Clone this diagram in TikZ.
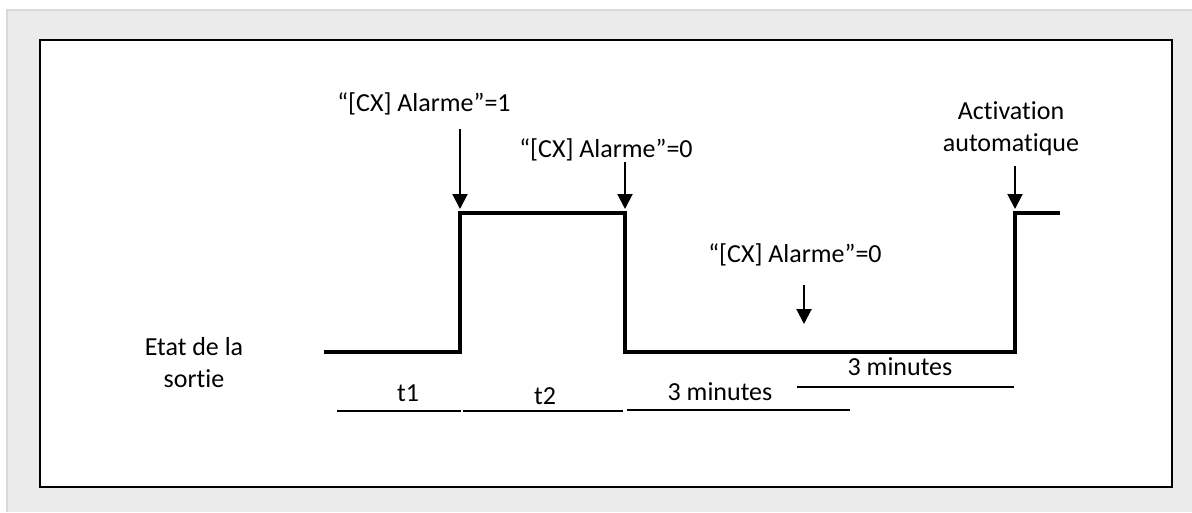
\documentclass[tikz,border=0pt]{standalone}
\usepackage{fontspec}
\setmainfont{Carlito}[Ligatures=NoCommon]
\usetikzlibrary{arrows.meta}
\begin{document}
\begin{tikzpicture}[x=1pt,y=-1pt,
  lbl/.style={anchor=base,inner sep=0pt,font=\fontsize{26}{32}\selectfont,align=center},
  signal/.style={line width=4pt,line join=miter},
  evarrow/.style={line width=2pt,-{Triangle[width=15pt,length=15pt]}},
  tline/.style={line width=2pt}]
\useasboundingbox (0,0) rectangle (1192,512);
% background
\fill[white] (0,0) rectangle (1192,512);
\fill[black!8] (7,10) rectangle (1192,512);
\draw[black!15,line width=2pt] (7,512) -- (7,10) -- (1192,10);
\draw[line width=2.5pt,fill=white] (40,40) rectangle (1172,487);
% signal
\coordinate (s0) at (324,352);
\coordinate (s1) at (460,352);
\coordinate (s2) at (460,213);
\coordinate (s3) at (625,213);
\coordinate (s4) at (625,352);
\coordinate (s5) at (1015,352);
\coordinate (s6) at (1015,213);
\coordinate (s7) at (1060,213);
\draw[signal] (s0) -- (s1) -- (s2) -- (s3) -- (s4) -- (s5) -- (s6) -- (s7);
% labels
\node[lbl] (l1) at (424,111) {“[CX] Alarme”=1};
\node[lbl] (l2) at (606,157) {“[CX] Alarme”=0};
\node[lbl] (l3) at (795,262) {“[CX] Alarme”=0};
\node[lbl] (l4) at (1011,151) {Activation\\automatique};
\node[lbl] (etat) at (194,387) {Etat de la\\sortie};
% event arrows
\coordinate (a1s) at (460,129); \coordinate (a1e) at (460,209);
\coordinate (a2s) at (625,162); \coordinate (a2e) at (625,209);
\coordinate (a3s) at (804,285); \coordinate (a3e) at (804,324);
\coordinate (a4s) at (1015,166); \coordinate (a4e) at (1015,209);
\draw[evarrow] (a1s) -- (a1e);
\draw[evarrow] (a2s) -- (a2e);
\draw[evarrow] (a3s) -- (a3e);
\draw[evarrow] (a4s) -- (a4e);
% time intervals
\coordinate (t1a) at (337,411); \coordinate (t1b) at (461,411);
\coordinate (t2a) at (463,411); \coordinate (t2b) at (623,411);
\coordinate (t3a) at (627,410); \coordinate (t3b) at (850,410);
\coordinate (t4a) at (797,387); \coordinate (t4b) at (1014,387);
\draw[tline] (t1a) -- (t1b);
\draw[tline] (t2a) -- (t2b);
\draw[tline] (t3a) -- (t3b);
\draw[tline] (t4a) -- (t4b);
\node[lbl] (tt1) at (408,401) {t1};
\node[lbl] (tt2) at (545,404) {t2};
\node[lbl] (tt3) at (720,400) {3 minutes};
\node[lbl] (tt4) at (900,375) {3 minutes};
\end{tikzpicture}
\end{document}
